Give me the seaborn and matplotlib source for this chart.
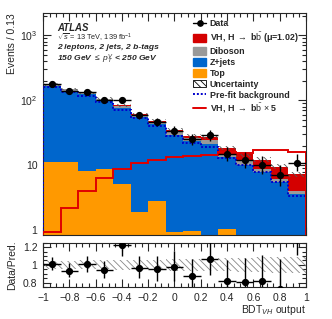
import numpy as np
import pandas as pd
import matplotlib
matplotlib.use('Agg')
import matplotlib.pyplot as plt
import seaborn as sns
from matplotlib.lines import Line2D
from matplotlib.patches import Patch

# ============================================
# DATA (15 bins in BDT_VH)
# ============================================
bin_edges = list(np.linspace(-1, 1, 16))

data_events = [176, 140, 134, 100, 102, 59, 46, 34, 25, 29, 15, 12, 10, 7, 11]
vh_signal = [0.19, 0.44, 0.8, 1.3, 1.8, 2.2, 2.4, 2.7, 2.8, 2.9, 3.2, 3.1, 3.4, 3.4, 3.2]
diboson = [9.5, 8.3, 7.1, 6.0, 5.6, 3.9, 3.2, 2.65, 2.5, 3.0, 1.6, 1.4, 0.9, 0.7, 0.5]
zjets = [153, 130, 117, 90, 71, 53, 40, 28.5, 22.5, 20.5, 12.5, 9.8, 7.6, 5.2, 3.4]
top = [11.2, 11.2, 8.1, 8.7, 5.2, 1.9, 2.8, 0.95, 0.97, 0.85, 1.07, 0.5, 0.4, 0.3, 0.2]
prefit_bkg = [158, 133, 117, 95, 71, 54, 40, 28.5, 22, 19.5, 13.2, 10.2, 8.0, 5.5, 3.4]
vh_x5 = [0.95, 2.2, 4.0, 6.4, 8.9, 11.0, 12.0, 13.4, 13.8, 14.6, 16.0, 15.7, 17.0, 17.0, 16.0]
rel_unc = [0.045, 0.045, 0.05, 0.05, 0.055, 0.06, 0.06, 0.065, 0.07, 0.07, 0.075, 0.08, 0.085, 0.09, 0.09]

x_ticks = [-1, -0.8, -0.6, -0.4, -0.2, 0, 0.2, 0.4, 0.6, 0.8, 1]
x_ticklabels = ['\u22121', '\u22120.8', '\u22120.6', '\u22120.4', '\u22120.2', '0',
                '0.2', '0.4', '0.6', '0.8', '1']

# colours
c_vh = '#d40000'
c_dib = '#999999'
c_zj = '#0066cc'
c_top = '#ff9900'
c_prefit = '#0000cc'
c_line = '#e00000'

# ============================================
# STYLE
# ============================================
sns.set_style('ticks')
plt.rcParams['font.family'] = ['Liberation Sans', 'DejaVu Sans']
plt.rcParams['mathtext.fontset'] = 'custom'
plt.rcParams['mathtext.rm'] = 'Liberation Sans'
plt.rcParams['mathtext.it'] = 'Liberation Sans:italic'
plt.rcParams['mathtext.bf'] = 'Liberation Sans:bold'
plt.rcParams['hatch.linewidth'] = 0.6
plt.rcParams['axes.linewidth'] = 0.8

edges = np.asarray(bin_edges)
centers = 0.5 * (edges[:-1] + edges[1:])
half_w = 0.5 * (edges[1] - edges[0])

data = np.array(data_events, dtype=float)
total = (np.array(vh_signal) + np.array(diboson) + np.array(zjets) + np.array(top))
unc = np.array(rel_unc)
unc_ext = np.append(unc, unc[-1])
total_ext = np.append(total, total[-1])

fig = plt.figure(figsize=(3.32, 3.19), dpi=100)
ax = fig.add_axes([0.1295, 0.2633, 0.7922, 0.6959])
ax_r = fig.add_axes([0.1295, 0.1003, 0.7922, 0.1389])

# ============================================
# MAIN PANEL: stacked backgrounds
# ============================================
layers = [(vh_signal, c_vh), (diboson, c_dib), (zjets, c_zj), (top, c_top)]
cum = total.copy()
for vals, col in layers:
    df_layer = pd.DataFrame({'bdt': centers, 'events': cum})
    sns.histplot(data=df_layer, x='bdt', weights='events', bins=bin_edges, element='step',
                 fill=True, color=col, alpha=1, linewidth=0, ax=ax)
    cum = cum - np.array(vals)

# pre-fit background (dotted)
ax.stairs(prefit_bkg, edges, color=c_prefit, linestyle=(0, (1, 1)), linewidth=1.4, zorder=3)

# uncertainty band
ax.fill_between(edges, total_ext * (1 - unc_ext), total_ext * (1 + unc_ext), step='post',
                facecolor='none', edgecolor='#555555', hatch='\\\\\\\\\\', linewidth=0, zorder=4)

# signal x5 line
ax.stairs(vh_x5, edges, color=c_line, linewidth=1.4, zorder=5)

# data, asymmetric poisson-like errors
err_lo = np.sqrt(data + 0.25) - 0.5
err_hi = np.sqrt(data + 0.25) + 0.5
ax.errorbar(centers, data, xerr=half_w, yerr=[err_lo, err_hi], fmt='o', color='black',
            ms=4.2, elinewidth=1, capsize=0, zorder=6)

ax.set_yscale('log')
ax.set_xlim(-1, 1)
ax.set_ylim(0.85, 2200)
ax.set_yticks([1, 10, 100, 1000])
ax.set_yticklabels(['1', '10', '$10^{2}$', '$10^{3}$'], fontsize=7.5)
ax.set_xticks(x_ticks)
ax.set_xticklabels([])
ax.xaxis.set_minor_locator(matplotlib.ticker.MultipleLocator(0.05))
ax.tick_params(which='both', direction='in', top=True, right=True, width=0.8)
ax.tick_params(which='major', length=6, pad=4)
ax.tick_params(which='minor', length=3)
ax.set_xlabel('')
ax.set_ylabel('Events / 0.13', fontsize=7.5, loc='top')
ax.yaxis.set_label_coords(-0.100, 1.0)

# labels
tx = 0.053
ax.text(tx, 0.932, 'ATLAS', transform=ax.transAxes, fontsize=6.9, fontweight='bold',
        style='italic', va='center')
ax.text(tx, 0.887, r'$\sqrt{s}$ = 13 TeV, 139 fb$^{-1}$', transform=ax.transAxes,
        fontsize=5.3, va='center')
ax.text(tx, 0.843, '2 leptons, 2 jets, 2 b-tags', transform=ax.transAxes, fontsize=6.1,
        fontweight='bold', style='italic', va='center')
ax.text(tx, 0.792, r'150 GeV $\leq$ $p_{T}^{V}$ < 250 GeV', transform=ax.transAxes,
        fontsize=6.1, fontweight='bold', style='italic', va='center')

handles = [
    Line2D([], [], color='black', marker='o', ms=3.8, lw=1),
    Patch(facecolor=c_vh, edgecolor=c_vh),
    Patch(facecolor=c_dib, edgecolor=c_dib),
    Patch(facecolor=c_zj, edgecolor=c_zj),
    Patch(facecolor=c_top, edgecolor=c_top),
    Patch(facecolor='white', edgecolor='black', hatch='\\\\\\\\\\', lw=0.6),
    Line2D([], [], color=c_prefit, ls=(0, (1, 1)), lw=1.4),
    Line2D([], [], color=c_line, lw=1.4),
]
labels = ['Data', 'VH, H $\\rightarrow$ b$\\bar{\\rm b}$ (\u03bc=1.02)', 'Diboson', 'Z+jets', 'Top',
          'Uncertainty', 'Pre-fit background', r'VH, H $\rightarrow$ b$\bar{\rm b}$ $\times$ 5']
leg = ax.legend(handles, labels, loc='upper left', bbox_to_anchor=(0.570, 0.972),
                frameon=False, fontsize=6.4, borderpad=0, borderaxespad=0,
                handlelength=1.5, handleheight=0.95, handletextpad=0.4, labelspacing=0.22)
for t in leg.get_texts():
    t.set_fontweight('bold')

# ============================================
# RATIO PANEL
# ============================================
ratio = data / total
ax_r.fill_between(edges, 1 - unc_ext, 1 + unc_ext, step='post', facecolor='none',
                  edgecolor='#888888', hatch='\\\\\\\\\\', linewidth=0, zorder=1)
ax_r.errorbar(centers, ratio, xerr=half_w, yerr=[err_lo / total, err_hi / total], fmt='o',
              color='black', ms=4.2, elinewidth=1, capsize=0, zorder=3)
ax_r.set_xlim(-1, 1)
ax_r.set_ylim(0.75, 1.25)
ax_r.set_yticks([0.8, 1.0, 1.2])
ax_r.set_yticklabels(['0.8', '1', '1.2'], fontsize=7.5)
ax_r.set_xticks(x_ticks)
ax_r.set_xticklabels(x_ticklabels, fontsize=7.5)
ax_r.xaxis.set_minor_locator(matplotlib.ticker.MultipleLocator(0.05))
ax_r.yaxis.set_minor_locator(matplotlib.ticker.MultipleLocator(0.05))
ax_r.tick_params(which='both', direction='in', top=True, right=True, width=0.8)
ax_r.tick_params(which='major', length=6, pad=4)
ax_r.tick_params(which='minor', length=3)
ax_r.set_ylabel('Data/Pred.', fontsize=7.5)
ax_r.yaxis.set_label_coords(-0.100, 0.5)
ax_r.set_xlabel('BDT$_{VH}$ output', fontsize=7.5, loc='right')
ax_r.xaxis.set_label_coords(1.0, -0.37)

plt.savefig('out.png', dpi=100)
plt.close()
